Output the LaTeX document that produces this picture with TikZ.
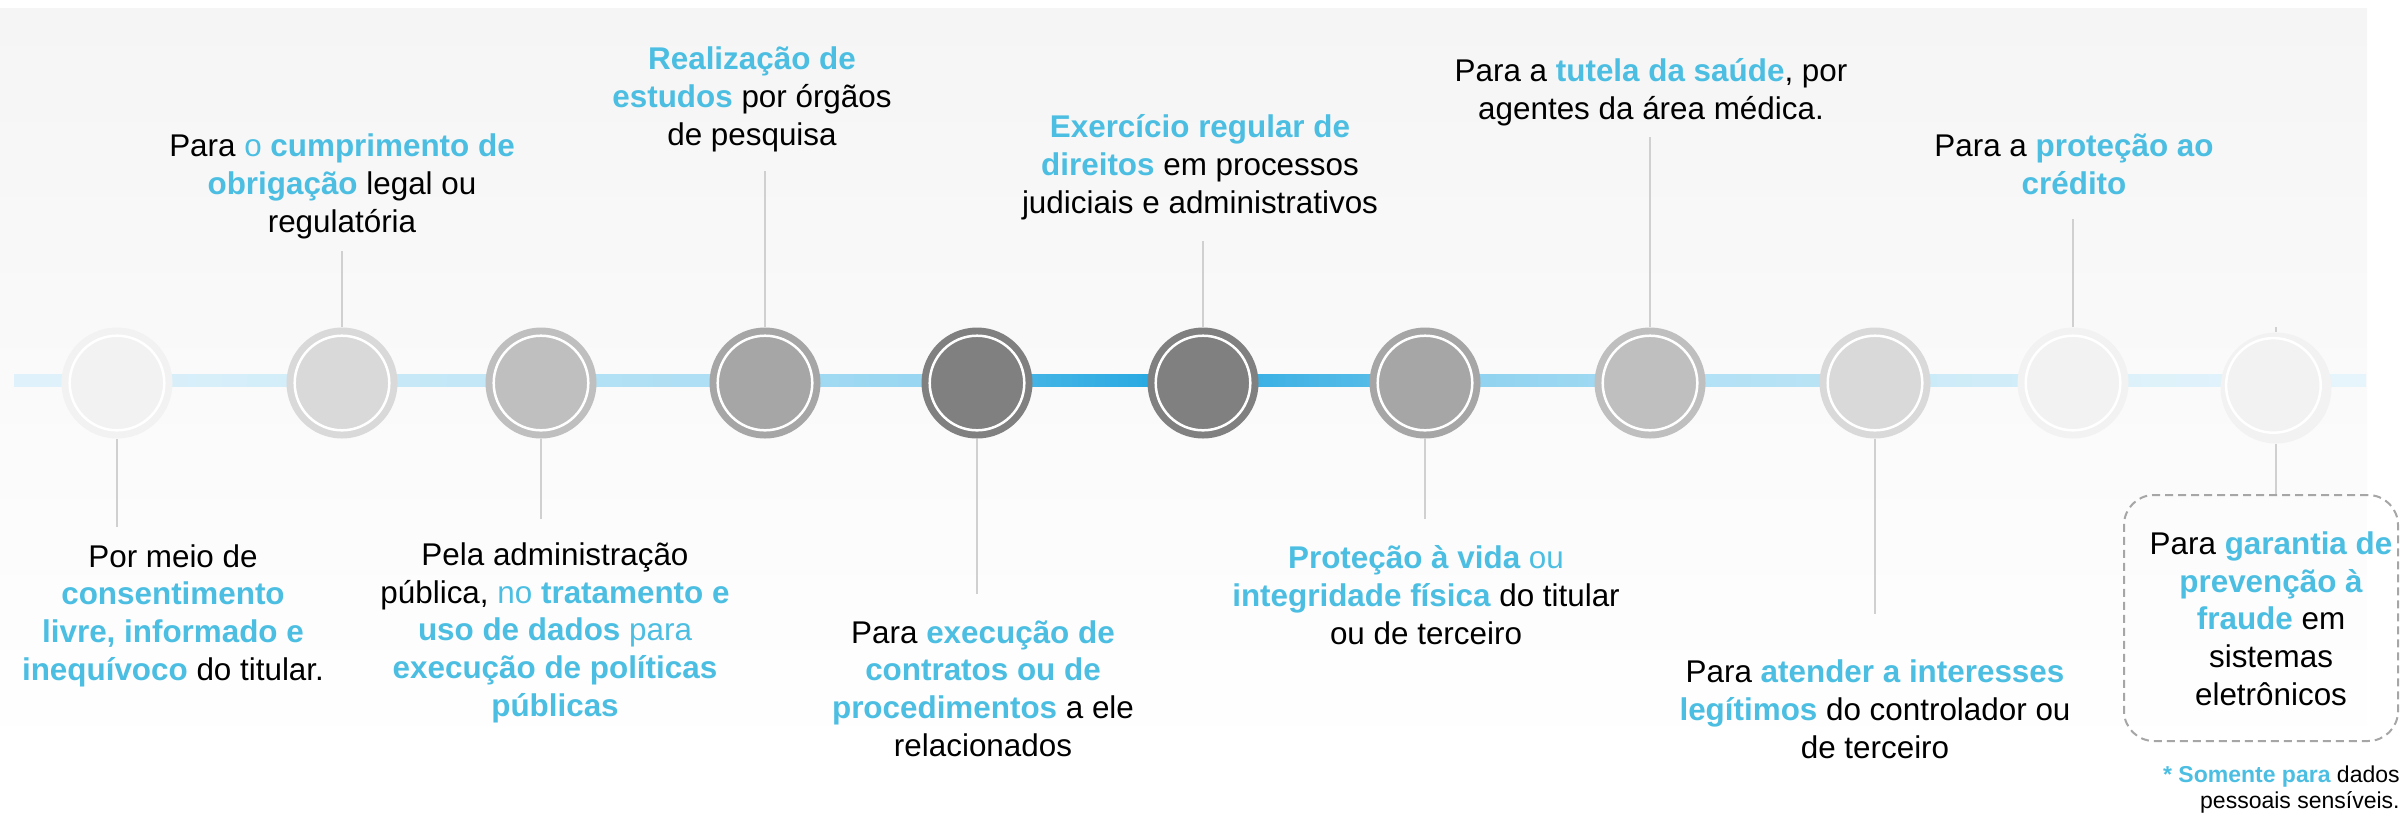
\documentclass[tikz,border=0pt]{standalone}
\usepackage{fontspec}
\setmainfont{Liberation Sans}
\usepackage{tikz}
\usetikzlibrary{backgrounds}
\definecolor{LgpdBlue}{RGB}{75,190,226}
\definecolor{BarBase}{RGB}{30,165,224}
\definecolor{BgTop}{HTML}{F5F5F5}
\definecolor{DotA}{HTML}{F2F2F2}
\definecolor{DotB}{HTML}{D9D9D9}
\definecolor{DotC}{HTML}{BFBFBF}
\definecolor{DotD}{HTML}{A6A6A6}
\definecolor{DotE}{HTML}{808080}
\definecolor{StemGray}{HTML}{D0D0D0}
\definecolor{BoxGray}{HTML}{A6A6A6}
\newcommand{\hlb}[1]{\textcolor{LgpdBlue}{\bfseries #1}}
\newcommand{\hlr}[1]{\textcolor{LgpdBlue}{#1}}
\tikzset{
  dot/.style={circle, inner sep=0pt, minimum size=55.5pt},
  ring/.style={draw=white, line width=1.25pt},
  stem/.style={draw=StemGray, line width=1pt},
  % base = baseline of the last line
  legal/.style={align=center, inner sep=0pt, anchor=base,
    font=\fontsize{15.7}{18.8}\selectfont},
  dashbox/.style={draw=BoxGray, dash pattern=on 4pt off 2.5pt, line width=1pt,
    rounded corners=15pt, inner sep=0pt},
  note/.style={align=right, inner sep=0pt, anchor=base east,
    font=\fontsize{11.5}{13}\selectfont}
}

\begin{document}
\begin{tikzpicture}[x=0.5pt, y=-0.5pt]
  \useasboundingbox (0,0) rectangle (2402,816);
  % circles on the timeline
  \foreach \i/\x/\y/\col/\rx/\ry in {1/117/383/DotA/0/0, 2/342/383/DotB/0/0,
      3/541/383/DotC/0/0, 4/765/383/DotD/0/0, 5/977/383/DotE/0/0,
      6/1203/383/DotE/0/0, 7/1425/383/DotD/0/0, 8/1650/383/DotC/0/0,
      9/1875/383/DotB/0/0, 10/2073/383/DotA/0/0, 11/2276/388/DotA/-2.6/-2.6}{
    \node[dot, fill=\col] (c\i) at (\x,\y) {};
    \draw[ring] (\x+\rx,\y+\ry) circle[radius=23.65pt];
  }
  \coordinate (barL) at (14,380);
  \coordinate (barR) at (2366,380);
  \coordinate (barT) at (0,374);
  \coordinate (barB) at (0,386);
  \begin{scope}[on background layer]
    \fill[top color=BgTop, bottom color=white] (0,8) rectangle (2367,763);
    \foreach \a/\b/\p/\q in {barL/c1/14/15, c1/c2/16/21, c2/c3/24/28,
        c3/c4/33/37, c4/c5/40/48, c5/c6/78/100, c6/c7/92/70, c7/c8/52/40,
        c8/c9/35/30, c9/c10/24/19, c10/c11/16/13, c11/barR/12/11}
      \fill[left color=BarBase!\p!white, right color=BarBase!\q!white]
        (\a |- barT) rectangle (\b |- barB);
  \end{scope}

  % texts above
  \node[legal] (t2) at (342,232) {Para \hlr{o} \hlb{cumprimento de}\\\hlb{obrigação} legal ou\\regulatória};
  \node[legal] (t4) at (752,145) {\hlb{Realização de}\\\hlb{estudos} por órgãos\\de pesquisa};
  \node[legal] (t6) at (1200,213) {\hlb{Exercício regular de}\\\hlb{direitos} em processos\\judiciais e administrativos};
  \node[legal] (t8) at (1651,119) {Para a \hlb{tutela da saúde}, por\\agentes da área médica.};
  \node[legal] (t10) at (2074,194) {Para a \hlb{proteção ao}\\\hlb{crédito}};
  % texts below
  \node[legal] (t1) at (173,680) {Por meio de\\\hlb{consentimento}\\\hlb{livre, informado e}\\\hlb{inequívoco} do titular.};
  \node[legal] (t3) at (555,716) {Pela administração\\pública, \hlr{no} \hlb{tratamento e}\\\hlb{uso de dados} \hlr{para}\\\hlb{execução de políticas}\\\hlb{públicas}};
  \node[legal] (t5) at (983,756) {Para \hlb{execução de}\\\hlb{contratos ou de}\\\hlb{procedimentos} a ele\\relacionados};
  \node[legal] (t7) at (1426,644) {\hlb{Proteção à vida} \hlr{ou}\\\hlb{integridade física} do titular\\ou de terceiro};
  \node[legal] (t9) at (1875,758) {Para \hlb{atender a interesses}\\\hlb{legítimos} do controlador ou\\de terceiro};
  \node[dashbox, minimum width=137pt, minimum height=123pt] (box) at (2261,618) {};
  \node[legal] (t11) at (2271,705) {Para \hlb{garantia de}\\\hlb{prevenção à}\\\hlb{fraude} em\\sistemas\\eletrônicos};
  \node[note] (nota) at (2400,808) {\hlb{* Somente para} dados\\pessoais sensíveis.};

  % stems
  \foreach \i/\y in {1/527, 2/251, 3/519, 4/171, 5/594, 6/241, 7/519,
      8/137, 9/614, 10/219, 11/327}{
    \coordinate (e\i) at (c\i |- 0,\y);
    \draw[stem] (c\i) -- (e\i);
  }
  \coordinate (e11b) at (c11.south |- box.north);
  \draw[stem] (c11) -- (e11b);
\end{tikzpicture}
\end{document}
